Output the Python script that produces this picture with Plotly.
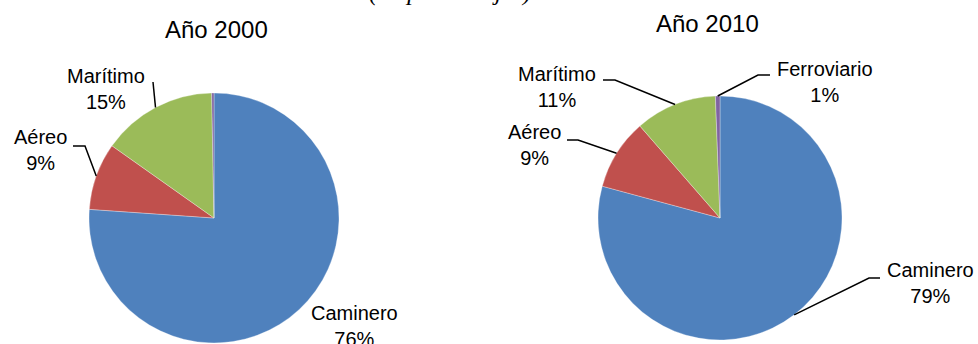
import plotly.graph_objects as go
import math

# ---- data ----
modes = ["Caminero", "Aéreo", "Marítimo", "Ferroviario"]
values_2000 = [76.1, 8.7, 14.9, 0.3]
values_2010 = [79.2, 9.4, 10.8, 0.6]
titles = ["Año 2000", "Año 2010"]
colors = ["#4F81BD", "#C0504D", "#9BBB59", "#8064A2"]

W, H = 978, 344

def px(x):
    return x / W

def py(y):
    return 1 - y / H

# pie geometry (pixels): center x, center y, radius
pies = [
    dict(vals=values_2000, cx=214, cy=218, r=125),
    dict(vals=values_2010, cx=720, cy=218, r=122),
]

fig = go.Figure()
for p in pies:
    fig.add_trace(go.Pie(
        labels=modes, values=p["vals"], sort=False, direction="clockwise",
        rotation=0, textinfo="none", hoverinfo="label+percent",
        marker=dict(colors=colors, line=dict(color="rgba(255,255,255,0.6)", width=0.5)),
        domain=dict(x=[px(p["cx"] - p["r"]), px(p["cx"] + p["r"])],
                    y=[py(p["cy"] + p["r"]), py(p["cy"] - p["r"])]),
        showlegend=False,
    ))

def edge_point(p, idx):
    vals = p["vals"]
    tot = sum(vals)
    start = sum(vals[:idx]) / tot * 360
    mid = start + vals[idx] / tot * 360 / 2
    a = math.radians(mid)
    return p["cx"] + p["r"] * math.sin(a), p["cy"] - p["r"] * math.cos(a)

def pct(p, idx):
    return round(p["vals"][idx] / sum(p["vals"]) * 100)

# label placement (pixels): (pie index, slice index, label center, leader path points or None)
label_layout = [
    (0, 0, (354, 326), None),
    (0, 1, (40, 150), [(85, 146), (73, 146)]),
    (0, 2, (106, 89), [(153, 82)]),
    (1, 0, (930, 283), [(869, 278), (880, 278)]),
    (1, 1, (534, 145), [(578, 140), (567, 140)]),
    (1, 2, (557, 87), [(615, 80), (603, 80)]),
    (1, 3, (825, 82), [(758, 75), (770, 75)]),
]

shapes = []
annotations = []
for pi, si, (lx, ly), path in label_layout:
    p = pies[pi]
    annotations.append(dict(
        x=px(lx), y=py(ly), xref="paper", yref="paper", showarrow=False,
        text=f"{modes[si]}<br>{pct(p, si)}%", align="center",
        font=dict(family="Liberation Sans, Arial, sans-serif", size=20, color="black"),
        xanchor="center", yanchor="middle",
    ))
    if path:
        ex, ey = edge_point(p, si)
        pts = [(ex, ey)] + path
        d = "M " + " L ".join(f"{px(x):.5f},{py(y):.5f}" for x, y in pts)
        shapes.append(dict(type="path", path=d, xref="paper", yref="paper",
                           line=dict(color="black", width=1.5)))

# chart titles
for (tx, ty), t in zip([(216, 29), (707, 23)], titles):
    annotations.append(dict(
        x=px(tx), y=py(ty), xref="paper", yref="paper", showarrow=False, text=t,
        font=dict(family="Liberation Sans, Arial, sans-serif", size=24, color="black"),
        xanchor="center", yanchor="middle",
    ))

# cut-off subtitle at very top
annotations.append(dict(
    x=px(450), y=1, xref="paper", yref="paper", showarrow=False,
    text="<i>(en porcentajes)</i>", yanchor="bottom", yshift=-8,
    font=dict(family="Liberation Serif, Times New Roman, serif", size=25, color="black"),
))

fig.update_layout(
    width=W, height=H, margin=dict(l=0, r=0, t=0, b=0),
    paper_bgcolor="white", plot_bgcolor="white",
    shapes=shapes, annotations=annotations,
)

fig.write_html("out.html", config={"displayModeBar": False},
               post_script="document.body.style.margin='0';")
